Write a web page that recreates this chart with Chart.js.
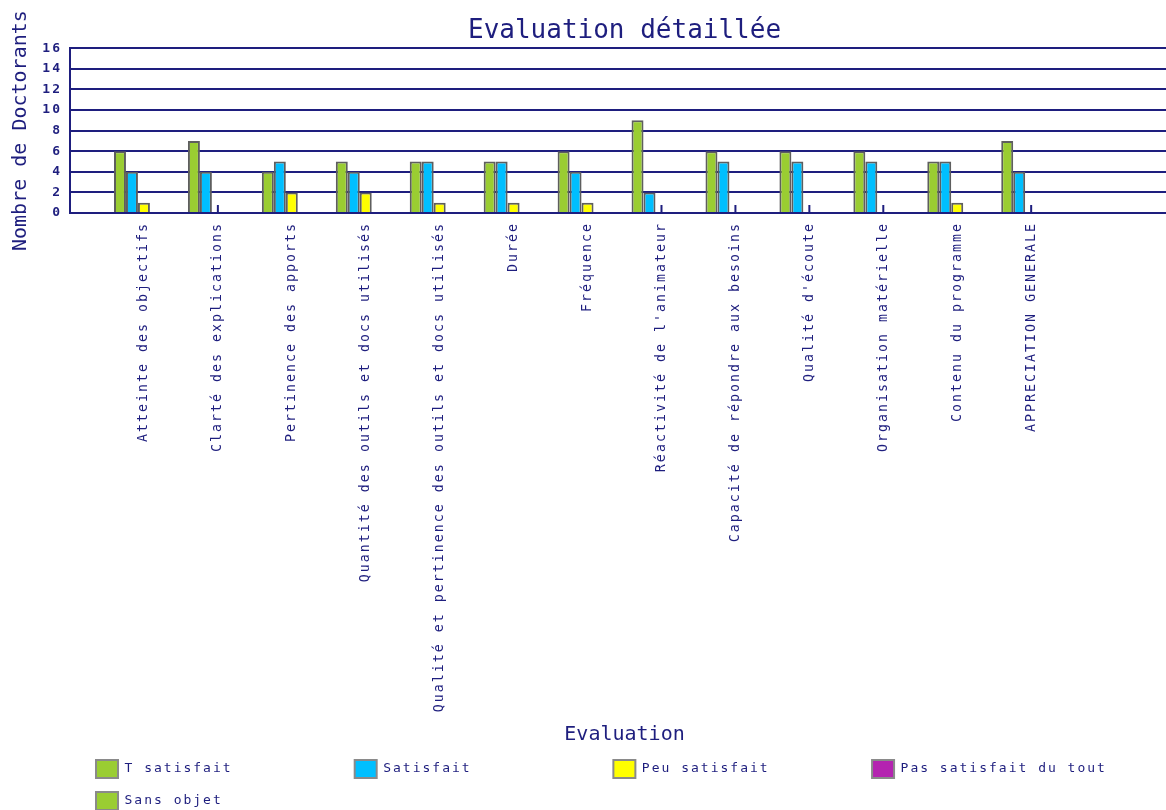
<!DOCTYPE html>
<html>
<head>
<meta charset="utf-8">
<script src="https://cdn.jsdelivr.net/npm/chart.js@4.4.1/dist/chart.umd.min.js"></script>
<style>
  html, body { margin: 0; padding: 0; background: #fff; overflow: hidden; }
  #wrap { width: 1204px; height: 810px; }
</style>
</head>
<body>
<div id="wrap"><canvas id="mainChart" width="1204" height="810"></canvas></div>
<script>
const categories = [
    "Atteinte des objectifs",
    "Clarté des explications",
    "Pertinence des apports",
    "Quantité des outils et docs utilisés",
    "Qualité et pertinence des outils et docs utilisés",
    "Durée",
    "Fréquence",
    "Réactivité de l'animateur",
    "Capacité de répondre aux besoins",
    "Qualité d'écoute",
    "Organisation matérielle",
    "Contenu du programme",
    "APPRECIATION GENERALE"
];
const tSatisfait   = [6, 7, 4, 5, 5, 5, 6, 9, 6, 6, 6, 5, 7];
const satisfait    = [4, 4, 5, 4, 5, 5, 4, 2, 5, 5, 5, 5, 4];
const peuSatisfait = [1, 0, 2, 2, 1, 1, 1, 0, 0, 0, 0, 1, 0];
const pasSatisfait = [0, 0, 0, 0, 0, 0, 0, 0, 0, 0, 0, 0, 0];
const sansObjet    = [0, 0, 0, 0, 0, 0, 0, 0, 0, 0, 0, 0, 0];
const yMax = 16, yStep = 2;

const NAVY = '#1e1e7e';
const MONO = "'DejaVu Sans Mono', monospace";

// blank slot before and after the categories, like the original graph
const pad = arr => [null, ...arr, null, null];
const labels = pad(categories).map(v => v === null ? '' : v);

// the original pixel font is widely spaced (ticks + legend), titles are not
function noSpacing(obj, fn) {
    if (!obj || obj['_ns_' + fn]) return;
    const orig = obj[fn];
    obj[fn] = function (...a) {
        const ctx = this.ctx, prev = ctx.letterSpacing;
        ctx.letterSpacing = '0px';
        orig.apply(this, a);
        ctx.letterSpacing = prev;
    };
    obj['_ns_' + fn] = true;
}
const spacing = {
    id: 'spacing',
    beforeLayout(c) { c.ctx.letterSpacing = '2px'; },
    afterLayout(c) {
        noSpacing(c.titleBlock, 'draw');
        noSpacing(c.scales.x, 'drawTitle');
        noSpacing(c.scales.y, 'drawTitle');
    },
    beforeDraw(c) { c.ctx.letterSpacing = '2px'; }
};

// small tick marks pointing up into the plot, hidden behind the bars
const innerTicks = {
    id: 'innerTicks',
    beforeDatasetsDraw(c) {
        const x = c.scales.x, ctx = c.ctx;
        ctx.save();
        ctx.strokeStyle = NAVY;
        ctx.lineWidth = 2;
        x.ticks.forEach((t, i) => {
            if (!labels[i]) return;
            const px = x.getPixelForTick(i);
            ctx.beginPath();
            ctx.moveTo(px, x.top);
            ctx.lineTo(px, x.top - 8);
            ctx.stroke();
        });
        ctx.restore();
    }
};

const shiftLegend = {
    id: 'shiftLegend',
    afterLayout(c) {
        c.legend.left += 12; c.legend.right += 12;
        c.legend.top += 10; c.legend.bottom += 10;
    }
};

function ds(label, data, color) {
    return {
        label: label,
        data: pad(data),
        backgroundColor: color,
        borderColor: '#5e5e5e',
        borderWidth: 2,
        categoryPercentage: 0.81,
        barPercentage: 1.0
    };
}

new Chart(document.getElementById('mainChart').getContext('2d'), {
    type: 'bar',
    data: {
        labels: labels,
        datasets: [
            ds('T satisfait', tSatisfait, '#9acd32'),
            ds('Satisfait', satisfait, '#00bfff'),
            ds('Peu satisfait', peuSatisfait, '#ffff00'),
            ds('Pas satisfait du tout', pasSatisfait, '#b423b0'),
            ds('Sans objet', sansObjet, '#9acd32')
        ]
    },
    plugins: [spacing, innerTicks, shiftLegend],
    options: {
        responsive: false,
        animation: false,
        layout: { padding: 0 },
        scales: {
            x: {
                offset: false,
                afterFit: s => { s.height = 523; },
                grid: { display: false, drawTicks: false },
                border: { display: true, color: NAVY, width: 2 },
                ticks: {
                    autoSkip: false, maxRotation: 90, minRotation: 90,
                    padding: 9, color: NAVY, font: { family: MONO, size: 13.3 }
                },
                title: {
                    display: true, text: 'Evaluation', color: NAVY,
                    font: { family: MONO, size: 20 }, padding: { top: 0, bottom: -11 }
                }
            },
            y: {
                min: 0, max: yMax,
                afterFit: s => { s.width = 70; },
                grid: { color: NAVY, lineWidth: 2, drawTicks: false },
                border: { display: true, color: NAVY, width: 2 },
                ticks: {
                    stepSize: yStep, padding: 8, color: NAVY,
                    font: { family: MONO, size: 13, weight: 'bold' }
                },
                title: {
                    display: true, text: 'Nombre de Doctorants', color: NAVY,
                    font: { family: MONO, size: 20 }, padding: { top: 9, bottom: 0 }
                }
            }
        },
        plugins: {
            title: {
                display: true, text: 'Evaluation détaillée', color: NAVY, fullSize: false,
                font: { family: MONO, size: 26, weight: 'normal' },
                padding: { top: 16, bottom: 1 }
            },
            legend: {
                position: 'bottom', align: 'start', fullSize: false,
                labels: {
                    boxWidth: 22, boxHeight: 18, padding: 14, color: NAVY,
                    font: { family: MONO, size: 13 },
                    generateLabels: c => c.data.datasets.map((d, i) => ({
                        text: d.label.padEnd(22, ' '),
                        fillStyle: d.backgroundColor,
                        strokeStyle: '#8a8a8a',
                        lineWidth: 2,
                        fontColor: NAVY,
                        hidden: false,
                        datasetIndex: i
                    }))
                }
            },
            tooltip: { enabled: false }
        }
    }
});
</script>
</body>
</html>
